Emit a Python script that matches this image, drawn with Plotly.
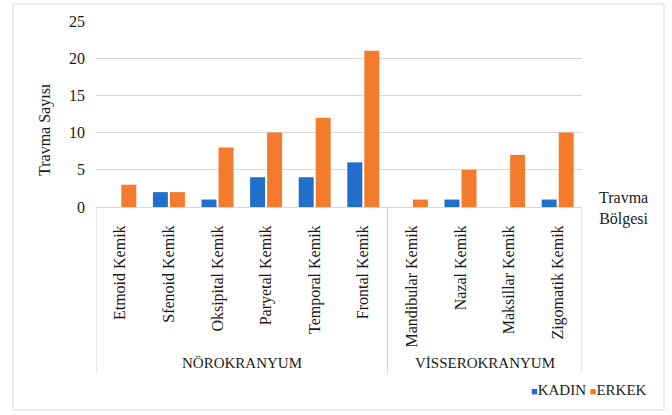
import plotly.graph_objects as go

categories = ["Etmoid Kemik", "Sfenoid Kemik", "Oksipital Kemik", "Paryetal Kemik",
              "Temporal Kemik", "Frontal Kemik", "Mandibular Kemik", "Nazal Kemik",
              "Maksillar Kemik", "Zigomatik Kemik"]
kadin = [0, 2, 1, 4, 4, 6, 0, 1, 0, 1]
erkek = [3, 2, 8, 10, 12, 21, 1, 5, 7, 10]
groups = ["NÖROKRANYUM", "VİSSEROKRANYUM"]
group_sizes = [6, 4]
series_names = ["KADIN", "ERKEK"]

FONT = "Liberation Serif, Times New Roman, serif"
BLUE = "#1F6FCB"
ORANGE = "#F47B2C"
TXT = "#1A1A1A"

fig = go.Figure()
fig.add_trace(go.Bar(name=series_names[0], x=list(range(len(categories))), y=kadin,
                     marker=dict(color=BLUE, line=dict(width=0))))
fig.add_trace(go.Bar(name=series_names[1], x=list(range(len(categories))), y=erkek,
                     marker=dict(color=ORANGE, line=dict(width=0))))

W, H = 672, 415
L, R, T, B = 96, 90, 21, 208
pw = W - L - R
ph = H - T - B

def px2paperx(px):
    return (px - L) / pw

def px2papery(py):
    return (H - B - py) / ph

shapes = []
shapes.append(dict(type="rect", xref="paper", yref="paper",
                   x0=px2paperx(13), x1=px2paperx(664), y0=px2papery(410), y1=px2papery(4),
                   line=dict(color="#D9D9D9", width=1), fillcolor="rgba(0,0,0,0)", layer="below"))
edges = [-0.5]
for s in group_sizes:
    edges.append(edges[-1] + s)
for e in edges:
    shapes.append(dict(type="line", xref="x", yref="paper", x0=e, x1=e,
                       y0=px2papery(373), y1=0, line=dict(color="#D0D0D0", width=1)))

annotations = []
for i, g in enumerate(groups):
    center = (edges[i] + edges[i + 1]) / 2
    annotations.append(dict(text=g, xref="x", yref="paper", x=center, y=px2papery(363),
                            showarrow=False, xanchor="center", yanchor="middle",
                            font=dict(family=FONT, size=15, color=TXT)))
annotations.append(dict(text="Travma<br>Bölgesi", xref="paper", yref="paper",
                        x=px2paperx(624), y=px2papery(208), showarrow=False,
                        xanchor="center", yanchor="middle",
                        font=dict(family=FONT, size=16, color=TXT)))
annotations.append(dict(text="Travma Sayısı", xref="paper", yref="paper",
                        x=px2paperx(45), y=px2papery(130), showarrow=False, textangle=-90,
                        xanchor="center", yanchor="middle",
                        font=dict(family=FONT, size=16, color=TXT)))
legend_text = (f"<span style='color:{BLUE};font-size:11px'>■</span>{series_names[0]} "
               f"<span style='color:{ORANGE};font-size:11px'>■</span>{series_names[1]}")
annotations.append(dict(text=legend_text, xref="paper", yref="paper",
                        x=px2paperx(649), y=px2papery(390), showarrow=False,
                        xanchor="right", yanchor="middle",
                        font=dict(family=FONT, size=15, color=TXT)))

fig.update_layout(
    width=W, height=H,
    margin=dict(l=L, r=R, t=T, b=B, autoexpand=False),
    paper_bgcolor="white", plot_bgcolor="white",
    barmode="group", bargap=0.3, bargroupgap=0.12,
    font=dict(family=FONT, size=16, color=TXT),
    shapes=shapes, annotations=annotations,
    showlegend=False,
    xaxis=dict(tickmode="array", tickvals=list(range(len(categories))), ticktext=categories,
               tickangle=-90, range=[-0.5, len(categories) - 0.5],
               showline=True, linecolor="#D9D9D9", linewidth=1, showgrid=False,
               ticks="", automargin=False, zeroline=False, ticklabelstandoff=11,
               tickfont=dict(family=FONT, size=16, color=TXT)),
    yaxis=dict(range=[0, 25], dtick=5, showgrid=True, gridcolor="#D9D9D9", gridwidth=1,
               zeroline=False, showline=False, ticks="", automargin=False,
               ticklabelstandoff=10,
               tickfont=dict(family=FONT, size=16, color=TXT)),
)

fig.write_html("out.html")
